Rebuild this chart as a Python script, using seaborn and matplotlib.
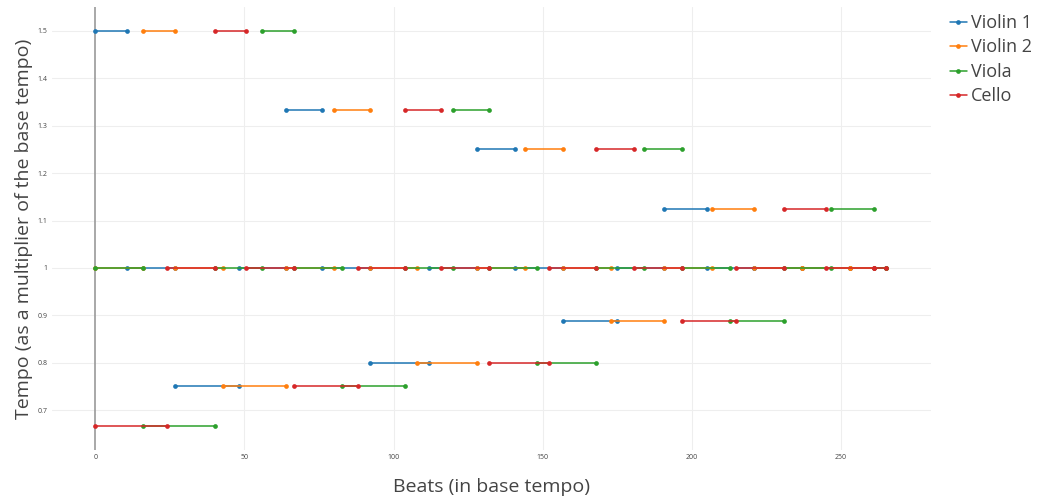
import pandas as pd
import matplotlib
matplotlib.use("Agg")
import matplotlib.pyplot as plt
from matplotlib.lines import Line2D
from matplotlib.ticker import FuncFormatter
import seaborn as sns

# segment boundaries (beats in base tempo) and the tempo of each segment
violin1_beats = [0, 10.67, 26.67, 48, 64, 76, 92, 112, 128, 140.8, 156.8, 174.8,
                 190.8, 205.02, 221.02, 237.02, 253.02, 265.02]
violin1_tempos = [1.5, 1, 0.75, 1, 1.333, 1, 0.8, 1, 1.25, 1, 0.889, 1,
                  1.125, 1, 1, 1, 1]

violin2_beats = [0, 16, 26.67, 42.67, 64, 80, 92, 108, 128, 144, 156.8, 172.8,
                 190.8, 206.8, 221.02, 237.02, 253.02, 265.02]
violin2_tempos = [1, 1.5, 1, 0.75, 1, 1.333, 1, 0.8, 1, 1.25, 1, 0.889,
                  1, 1.125, 1, 1, 1]

viola_beats = [0, 16, 40, 56, 66.67, 82.67, 104, 120, 132, 148, 168, 184,
               196.8, 212.8, 230.8, 246.8, 261.02, 265.02]
viola_tempos = [1, 0.667, 1, 1.5, 1, 0.75, 1, 1.333, 1, 0.8, 1, 1.25,
                1, 0.889, 1, 1.125, 1]

cello_beats = [0, 24, 40, 50.67, 66.67, 88, 104, 116, 132, 152, 168, 180.8,
               196.8, 214.8, 230.8, 245.02, 261.02, 265.02]
cello_tempos = [0.667, 1, 1.5, 1, 0.75, 1, 1.333, 1, 0.8, 1, 1.25, 1,
                0.889, 1, 1.125, 1, 1]

instruments = ["Violin 1", "Violin 2", "Viola", "Cello"]
colors = ["#1f77b4", "#ff7f0e", "#2ca02c", "#d62728"]
y_ticks = [0.7, 0.8, 0.9, 1, 1.1, 1.2, 1.3, 1.4, 1.5]
x_ticks = [0, 50, 100, 150, 200, 250]

# build a long table: one row per segment endpoint
rows = []
all_parts = [(violin1_beats, violin1_tempos), (violin2_beats, violin2_tempos),
             (viola_beats, viola_tempos), (cello_beats, cello_tempos)]
for name, (beats, tempos) in zip(instruments, all_parts):
    for i, t in enumerate(tempos):
        seg = f"{name}-{i}"
        rows.append({"instrument": name, "segment": seg, "beat": beats[i], "tempo": t})
        rows.append({"instrument": name, "segment": seg, "beat": beats[i + 1], "tempo": t})
df = pd.DataFrame(rows)

sns.set_theme(style="white")
plt.rcParams["font.family"] = ["Open Sans", "DejaVu Sans"]

fig = plt.figure(figsize=(10.38, 4.97), dpi=100)
ax = fig.add_axes([0.050, 0.0946, 0.847, 0.8914])

# grid + zero line
for v in x_ticks[1:]:
    ax.axvline(v, color="#eeeeee", lw=0.8, zorder=0)
for v in y_ticks:
    ax.axhline(v, color="#eeeeee", lw=0.8, zorder=0)
ax.axvline(0, color="#999999", lw=1.2, zorder=1)

sns.lineplot(data=df, x="beat", y="tempo", hue="instrument", hue_order=instruments,
             units="segment", estimator=None, sort=False, palette=colors,
             marker="o", markersize=3.4, markeredgewidth=0, linewidth=1.1,
             legend=False, ax=ax, zorder=3)

ax.set_xlim(-14.6, 280.3)
ax.set_ylim(0.616, 1.5506)
ax.set_xticks(x_ticks)
ax.set_yticks(y_ticks)
ax.yaxis.set_major_formatter(FuncFormatter(lambda v, p: f"{v:g}"))
ax.tick_params(axis="both", length=0, labelsize=5, labelcolor="#444444", pad=3)
for s in ax.spines.values():
    s.set_visible(False)

ax.set_xlabel("Beats (in base tempo)", fontsize=14, color="#444444", labelpad=12)
ax.set_ylabel("Tempo (as a multiplier of the base tempo)", fontsize=14,
              color="#444444", labelpad=3)

handles = [Line2D([0], [0], color=c, lw=1.1, marker="o", markersize=3.4,
                  markeredgewidth=0) for c in colors]
fig.legend(handles, instruments, loc="upper left", bbox_to_anchor=(0.9155, 0.972),
           frameon=False, fontsize=13, handlelength=0.9, handletextpad=0.25,
           labelspacing=0.36, labelcolor="#444444", borderaxespad=0, borderpad=0)

fig.savefig("out.png", dpi=100)
